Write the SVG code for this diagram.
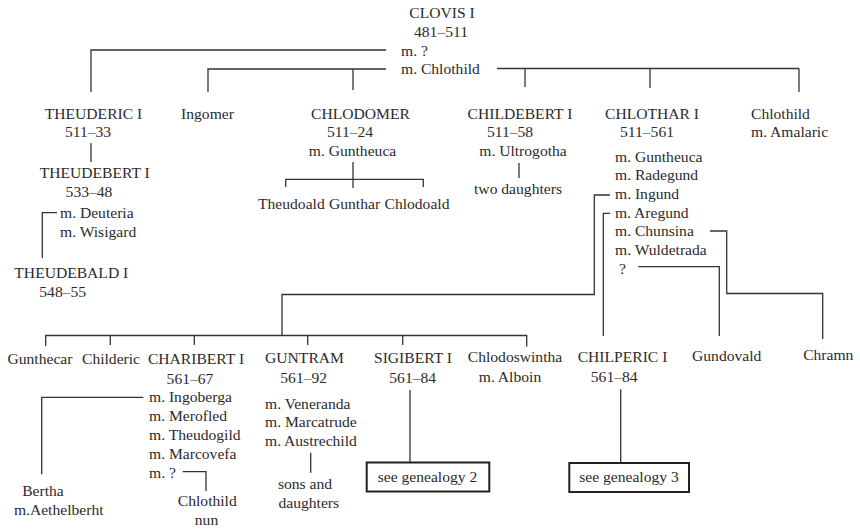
<svg xmlns="http://www.w3.org/2000/svg" width="860" height="531" viewBox="0 0 860 531">
<style>
text{font-family:"Liberation Serif","Times New Roman",serif;font-size:15.6px;fill:#2b2b2b}
.c{text-anchor:middle}
.l{fill:none;stroke:#333;stroke-width:1.3}
.box{fill:#fff;stroke:#222;stroke-width:2}
</style>
<rect width="860" height="531" fill="#fff"/>
<g id="connectors" class="l">
<polyline points="386,50 91,50 91,92"/>
<polyline points="386,69 208,69 208,92"/>
<line x1="353" y1="69" x2="353" y2="90"/>
<line x1="497" y1="68.5" x2="799" y2="68.5"/>
<line x1="525" y1="68.5" x2="525" y2="87"/>
<line x1="650" y1="68.5" x2="650" y2="88"/>
<line x1="799" y1="68.5" x2="799" y2="92"/>
<line x1="91" y1="143" x2="91" y2="162"/>
<polyline points="57,212.7 42.3,212.7 42.3,258"/>
<line x1="353" y1="162" x2="353" y2="188"/>
<polyline points="285.7,187 285.7,179.3 423.3,179.3 423.3,187"/>
<line x1="519" y1="163" x2="519" y2="178"/>
<polyline points="610,195 594.3,195 594.3,294.5 282,294.5 282,335.5"/>
<polyline points="45.7,346 45.7,335.5 526.7,335.5 526.7,346.5"/>
<line x1="110.3" y1="335.5" x2="110.3" y2="345"/>
<line x1="194.3" y1="335.5" x2="194.3" y2="345"/>
<line x1="307.7" y1="335.5" x2="307.7" y2="345"/>
<line x1="402.7" y1="335.5" x2="402.7" y2="345"/>
<polyline points="610,213.3 603.3,213.3 603.3,336"/>
<polyline points="638.3,266.7 719.3,266.7 719.3,336"/>
<polyline points="710,231 726.7,231 726.7,293.5 822.7,293.5 822.7,339"/>
<polyline points="143.3,397.3 41.7,397.3 41.7,474.3"/>
<polyline points="182.7,471.7 206,471.7 206,491"/>
<line x1="310.7" y1="452.7" x2="310.7" y2="472.7"/>
<line x1="410" y1="390" x2="410" y2="462"/>
<line x1="620.7" y1="389.3" x2="620.7" y2="463"/>
</g>
<g id="clovis">
<text class="c" x="442" y="18">CLOVIS I</text>
<text class="c" x="441" y="37">481–511</text>
<text x="401" y="55.5">m. ?</text>
<text x="401" y="74">m. Chlothild</text>
</g>
<g id="theuderic">
<text class="c" x="93.5" y="118.5">THEUDERIC I</text>
<text class="c" x="88" y="137">511–33</text>
</g>
<g id="theudebert">
<text class="c" x="94.7" y="178">THEUDEBERT I</text>
<text class="c" x="89" y="197">533–48</text>
<text x="60" y="218">m. Deuteria</text>
<text x="60" y="237">m. Wisigard</text>
</g>
<g id="theudebald">
<text class="c" x="71.3" y="278">THEUDEBALD I</text>
<text class="c" x="62.7" y="297">548–55</text>
</g>
<g id="ingomer">
<text class="c" x="207.5" y="118.5">Ingomer</text>
</g>
<g id="chlodomer">
<text class="c" x="360.5" y="118.5">CHLODOMER</text>
<text class="c" x="350" y="137">511–24</text>
<text class="c" x="352.5" y="156">m. Guntheuca</text>
</g>
<g id="theudoald"><text x="258" y="208.5">Theudoald</text></g>
<g id="gunthar"><text x="329" y="208.5">Gunthar</text></g>
<g id="chlodoald"><text x="384.5" y="208.5">Chlodoald</text></g>
<g id="childebert">
<text class="c" x="520" y="118.5">CHILDEBERT I</text>
<text class="c" x="510" y="137">511–58</text>
<text class="c" x="523" y="156">m. Ultrogotha</text>
</g>
<g id="two-daughters">
<text class="c" x="518" y="194">two daughters</text>
</g>
<g id="chlothar">
<text class="c" x="652" y="118.5">CHLOTHAR I</text>
<text class="c" x="647" y="137">511–561</text>
<text x="615" y="161.5">m. Guntheuca</text>
<text x="615" y="180">m. Radegund</text>
<text x="615" y="199">m. Ingund</text>
<text x="615" y="217.5">m. Aregund</text>
<text x="615" y="236">m. Chunsina</text>
<text x="615" y="255">m. Wuldetrada</text>
<text x="619" y="274">?</text>
</g>
<g id="chlothild-amalaric">
<text x="751" y="118.5">Chlothild</text>
<text x="751" y="137">m. Amalaric</text>
</g>
<g id="gunthecar"><text class="c" x="40" y="363.5">Gunthecar</text></g>
<g id="childeric"><text class="c" x="111" y="363.5">Childeric</text></g>
<g id="charibert">
<text class="c" x="196" y="363.5">CHARIBERT I</text>
<text class="c" x="190" y="383.5">561–67</text>
<text x="149" y="402">m. Ingoberga</text>
<text x="149" y="421">m. Merofled</text>
<text x="149" y="440">m. Theudogild</text>
<text x="149" y="459">m. Marcovefa</text>
<text x="149" y="478">m. ?</text>
</g>
<g id="bertha">
<text class="c" x="43" y="496">Bertha</text>
<text class="c" x="58.7" y="515">m.Aethelberht</text>
</g>
<g id="chlothild-nun">
<text class="c" x="207.3" y="506">Chlothild</text>
<text class="c" x="206.5" y="525">nun</text>
</g>
<g id="guntram">
<text class="c" x="304.5" y="363">GUNTRAM</text>
<text class="c" x="303.7" y="383">561–92</text>
<text x="265" y="408.5">m. Veneranda</text>
<text x="265" y="427">m. Marcatrude</text>
<text x="265" y="445.5">m. Austrechild</text>
</g>
<g id="sons-daughters">
<text class="c" x="305" y="489">sons and</text>
<text class="c" x="308.8" y="508">daughters</text>
</g>
<g id="sigibert">
<text class="c" x="413" y="363">SIGIBERT I</text>
<text class="c" x="412.7" y="383">561–84</text>
</g>
<g id="genealogy2">
<rect class="box" x="366.7" y="462.5" width="122.6" height="29"/>
<text class="c" x="427.5" y="481.5">see genealogy 2</text>
</g>
<g id="chlodoswintha">
<text class="c" x="515" y="362">Chlodoswintha</text>
<text class="c" x="510" y="382">m. Alboin</text>
</g>
<g id="chilperic">
<text class="c" x="622.5" y="362">CHILPERIC I</text>
<text class="c" x="614.2" y="382">561–84</text>
</g>
<g id="genealogy3">
<rect class="box" x="569.3" y="463" width="119.7" height="29"/>
<text class="c" x="629" y="482">see genealogy 3</text>
</g>
<g id="gundovald"><text class="c" x="726.7" y="361">Gundovald</text></g>
<g id="chramn"><text class="c" x="828.3" y="360">Chramn</text></g>
</svg>
